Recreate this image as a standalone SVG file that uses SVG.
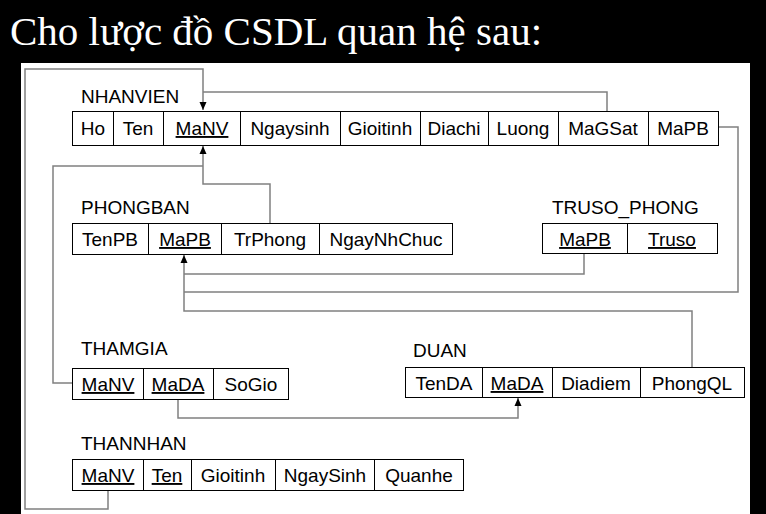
<svg xmlns="http://www.w3.org/2000/svg" width="766" height="514" viewBox="0 0 766 514">
<defs>
<style>
.title{font-family:"Liberation Serif","Times New Roman",serif;font-size:41px;fill:#fff}
.lbl{font-family:"Liberation Sans",Arial,sans-serif;font-size:19px;fill:#000}
.cell{fill:#fff;stroke:#000;stroke-width:1}
.ct{font-family:"Liberation Sans",Arial,sans-serif;font-size:19px;fill:#000;text-anchor:middle}
.key{text-decoration:underline}
.div{stroke:#000;stroke-width:1}
.conn{fill:none;stroke:#808080;stroke-width:1.5}
</style>
<marker id="arr" viewBox="0 0 8 8" refX="8" refY="4" markerWidth="8" markerHeight="8" markerUnits="userSpaceOnUse" orient="auto">
<path d="M0,0.5 L8,4 L0,7.5 Z" fill="#000"/>
</marker>
</defs>
<rect x="0" y="0" width="766" height="514" fill="#000"/>
<text class="title" x="10" y="45">Cho lược đồ CSDL quan hệ sau:</text>
<rect x="21" y="63" width="729" height="452" fill="#fff"/>

<g id="connectors">
<path class="conn" d="M108,490 V509 H25 V69 H203 V110" marker-end="url(#arr)"/>
<path class="conn" d="M607,111 V92 H203"/>
<path class="conn" d="M719,127 H738 V292 H184"/>
<path class="conn" d="M584,253 V274 H184"/>
<path class="conn" d="M692,367 V311 H184 V255" marker-end="url(#arr)"/>
<path class="conn" d="M270,223 V184 H203 V146" marker-end="url(#arr)"/>
<path class="conn" d="M72,383 H53 V166 H203"/>
<path class="conn" d="M178,399 V418 H518 V398" marker-end="url(#arr)"/>
</g>

<g id="NHANVIEN">
<text class="lbl" x="81" y="103">NHANVIEN</text>
<rect class="cell" x="72.5" y="111.5" width="646" height="34"/>
<path class="div" d="M113.5,111.5V145.5M163.5,111.5V145.5M240.5,111.5V145.5M340.5,111.5V145.5M420.5,111.5V145.5M488.5,111.5V145.5M558.5,111.5V145.5M648.5,111.5V145.5"/>
<text class="ct" x="93" y="135">Ho</text>
<text class="ct" x="138" y="135">Ten</text>
<text class="ct key" x="202" y="135">MaNV</text>
<text class="ct" x="290" y="135">Ngaysinh</text>
<text class="ct" x="380" y="135">Gioitinh</text>
<text class="ct" x="454" y="135">Diachi</text>
<text class="ct" x="523" y="135">Luong</text>
<text class="ct" x="603" y="135">MaGSat</text>
<text class="ct" x="683" y="135">MaPB</text>
</g>

<g id="PHONGBAN">
<text class="lbl" x="81" y="214">PHONGBAN</text>
<rect class="cell" x="72.5" y="223.5" width="380" height="31"/>
<path class="div" d="M148.5,223.5V254.5M221.5,223.5V254.5M319.5,223.5V254.5"/>
<text class="ct" x="110" y="246">TenPB</text>
<text class="ct key" x="185" y="246">MaPB</text>
<text class="ct" x="270" y="246">TrPhong</text>
<text class="ct" x="386" y="246">NgayNhChuc</text>
</g>

<g id="TRUSO_PHONG">
<text class="lbl" x="552" y="214">TRUSO_PHONG</text>
<rect class="cell" x="542.5" y="223.5" width="175" height="30"/>
<path class="div" d="M627.5,223.5V253.5"/>
<text class="ct key" x="585" y="246">MaPB</text>
<text class="ct key" x="672" y="246">Truso</text>
</g>

<g id="THAMGIA">
<text class="lbl" x="81" y="355">THAMGIA</text>
<rect class="cell" x="72.5" y="368.5" width="216" height="31"/>
<path class="div" d="M143.5,368.5V399.5M213.5,368.5V399.5"/>
<text class="ct key" x="108" y="391">MaNV</text>
<text class="ct key" x="178" y="391">MaDA</text>
<text class="ct" x="251" y="391">SoGio</text>
</g>

<g id="DUAN">
<text class="lbl" x="413" y="357">DUAN</text>
<rect class="cell" x="405.5" y="367.5" width="339" height="30"/>
<path class="div" d="M482.5,367.5V397.5M552.5,367.5V397.5M640.5,367.5V397.5"/>
<text class="ct" x="444" y="390">TenDA</text>
<text class="ct key" x="517" y="390">MaDA</text>
<text class="ct" x="596" y="390">Diadiem</text>
<text class="ct" x="692" y="390">PhongQL</text>
</g>

<g id="THANNHAN">
<text class="lbl" x="81" y="450">THANNHAN</text>
<rect class="cell" x="72.5" y="459.5" width="391" height="31"/>
<path class="div" d="M143.5,459.5V490.5M191.5,459.5V490.5M275.5,459.5V490.5M374.5,459.5V490.5"/>
<text class="ct key" x="108" y="482">MaNV</text>
<text class="ct key" x="167" y="482">Ten</text>
<text class="ct" x="233" y="482">Gioitinh</text>
<text class="ct" x="325" y="482">NgaySinh</text>
<text class="ct" x="419" y="482">Quanhe</text>
</g>
</svg>
